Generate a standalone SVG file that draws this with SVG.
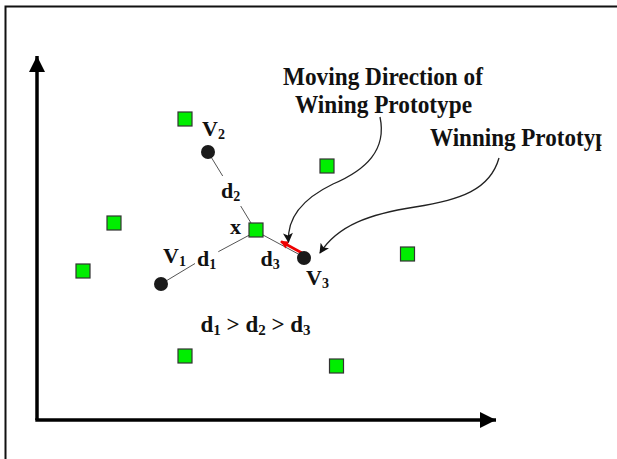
<svg xmlns="http://www.w3.org/2000/svg" width="617" height="459" viewBox="0 0 617 459">
<style>
.t{font-family:"Liberation Serif","Times New Roman",serif;font-weight:bold;fill:#111}
.big{font-size:25px}
.lab{font-size:22px}
.sub{font-size:14px}
.sq{fill:#00ee00;stroke:#333;stroke-width:1.2}
.pt{fill:#1a1a1a}
.ln{stroke:#555;stroke-width:1;fill:none}
.cv{stroke:#222;stroke-width:1.3;fill:none;marker-end:url(#ah)}
</style>
<defs>
<marker id="ah" viewBox="0 0 10 10" refX="9" refY="5" markerWidth="12" markerHeight="10" markerUnits="userSpaceOnUse" orient="auto"><path d="M0,0 L10,5 L0,10 L2.5,5 Z" fill="#111"/></marker>
<marker id="rh" viewBox="0 0 10 10" refX="9" refY="5" markerWidth="9" markerHeight="8" markerUnits="userSpaceOnUse" orient="auto"><path d="M0,0 L10,5 L0,10 Z" fill="#ee0000"/></marker>
<marker id="ax" viewBox="0 0 10 10" refX="10" refY="5" markerWidth="16" markerHeight="16" markerUnits="userSpaceOnUse" orient="auto"><path d="M0,0 L10,5 L0,10 Z" fill="#000"/></marker>
<clipPath id="cl"><rect x="0" y="0" width="601.5" height="459"/></clipPath>
</defs>
<rect x="5.5" y="6.5" width="620" height="460" fill="#fff" stroke="#111" stroke-width="2"/>
<g id="axes" stroke="#000" stroke-width="3.5" fill="none">
<path d="M37,420 L37,56" marker-end="url(#ax)"/>
<path d="M35.3,420 L496,420" marker-end="url(#ax)"/>
</g>
<g id="connectors">
<path class="ln" d="M208,152 L222.7,176 M240.7,206 L251,223"/>
<path class="ln" d="M161,284 L195,263.5 M218.3,251.7 L249.5,235"/>
<path class="ln" d="M263,235 L302,256"/>
<path d="M302,253 L281,241.5" stroke="#ee0000" stroke-width="2.6" fill="none" marker-end="url(#rh)"/>
<path class="cv" d="M380,117 C387,150 366,170 333,184 C300,200 287,220 288.5,242"/>
<path class="cv" d="M499,158 C490,190 460,200 415,207 C370,214 338,225 320,253"/>
</g>
<g id="squares">
<rect id="s1" class="sq" x="178" y="112" width="14" height="14"/>
<rect id="s2" class="sq" x="249" y="223" width="14" height="14"/>
<rect id="s3" class="sq" x="320" y="159" width="14" height="14"/>
<rect id="s4" class="sq" x="400.5" y="247" width="14" height="14"/>
<rect id="s5" class="sq" x="107" y="216" width="14" height="14"/>
<rect id="s6" class="sq" x="76" y="264" width="14" height="14"/>
<rect id="s7" class="sq" x="178" y="349" width="14" height="14"/>
<rect id="s8" class="sq" x="329.5" y="359" width="14" height="14"/>
</g>
<g id="V1"><circle class="pt" cx="161" cy="284" r="7"/><text class="t lab" x="163" y="263">V<tspan class="sub" dy="3">1</tspan></text></g>
<g id="V2"><circle class="pt" cx="208" cy="152" r="7"/><text class="t lab" x="202" y="136">V<tspan class="sub" dy="3">2</tspan></text></g>
<g id="V3"><circle class="pt" cx="304" cy="258" r="7"/><text class="t lab" x="306" y="285">V<tspan class="sub" dy="3">3</tspan></text></g>
<g id="labels">
<text class="t lab" x="221" y="198">d<tspan class="sub" dy="3">2</tspan></text>
<text class="t lab" x="230" y="234">x</text>
<text class="t lab" x="197" y="266">d<tspan class="sub" dy="3">1</tspan></text>
<text class="t lab" x="260.5" y="266">d<tspan class="sub" dy="3">3</tspan></text>
<text class="t" font-size="23" x="200.5" y="331.5">d<tspan font-size="15" dy="3">1</tspan><tspan dy="-3"> &gt; d</tspan><tspan font-size="15" dy="3">2</tspan><tspan dy="-3"> &gt; d</tspan><tspan font-size="15" dy="3">3</tspan></text>
<text class="t big" x="283" y="85" textLength="200" lengthAdjust="spacingAndGlyphs">Moving Direction of</text>
<text class="t big" x="295" y="113" textLength="177" lengthAdjust="spacingAndGlyphs">Wining Prototype</text>
<text class="t big" x="430" y="146" textLength="178" lengthAdjust="spacingAndGlyphs" clip-path="url(#cl)">Winning Prototyp</text>
</g>
</svg>
